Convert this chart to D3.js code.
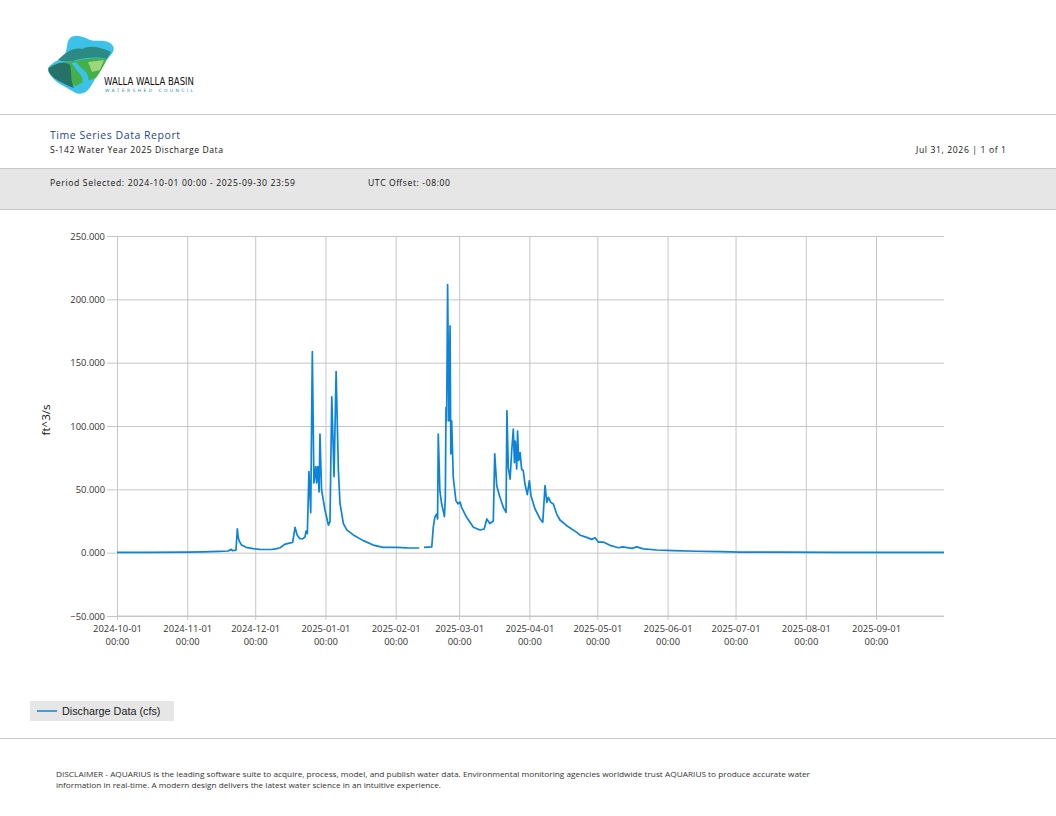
<!DOCTYPE html>
<html>
<head>
<meta charset="utf-8">
<script src="https://cdn.jsdelivr.net/npm/d3@7"></script>
<style>
    body { margin: 0; background: #fff; }
    svg { display: block; font-family: "Open Sans", sans-serif; }
</style>
</head>
<body>
<svg id="page" width="1056" height="816"></svg>
<script>
// Discharge readings (cfs). null = missing data.
const sampleTimes = [
    "2024-10-01 00:00", "2024-10-15 00:00", "2024-11-01 00:00", "2024-11-08 00:00", "2024-11-15 00:00",
    "2024-11-19 00:00", "2024-11-20 12:00", "2024-11-21 00:00", "2024-11-22 12:00", "2024-11-23 03:00",
    "2024-11-23 12:00", "2024-11-24 00:00", "2024-11-25 00:00", "2024-11-27 00:00", "2024-11-30 00:00",
    "2024-12-03 00:00", "2024-12-08 00:00", "2024-12-10 00:00", "2024-12-12 00:00", "2024-12-14 00:00",
    "2024-12-16 00:00", "2024-12-17 12:00", "2024-12-18 14:00", "2024-12-19 12:00", "2024-12-20 18:00",
    "2024-12-22 00:00", "2024-12-23 00:00", "2024-12-23 10:00", "2024-12-24 00:00", "2024-12-24 17:00",
    "2024-12-25 12:00", "2024-12-26 05:00", "2024-12-26 22:00", "2024-12-27 17:00", "2024-12-28 02:00",
    "2024-12-28 14:00", "2024-12-29 05:00", "2024-12-29 14:00", "2024-12-30 07:00", "2024-12-31 19:00",
    "2025-01-02 07:00", "2025-01-03 00:00", "2025-01-03 19:00", "2025-01-04 19:00", "2025-01-05 17:00",
    "2025-01-06 17:00", "2025-01-07 10:00", "2025-01-08 22:00", "2025-01-10 10:00", "2025-01-13 07:00",
    "2025-01-17 17:00", "2025-01-22 02:00", "2025-01-26 12:00", "2025-02-01 10:00", "2025-02-06 00:00",
    "2025-02-11 10:00", "2025-02-12 12:00", "2025-02-13 12:00", "2025-02-16 22:00", "2025-02-17 14:00",
    "2025-02-18 07:00", "2025-02-19 02:00", "2025-02-19 12:00", "2025-02-19 19:00", "2025-02-20 12:00",
    "2025-02-21 07:00", "2025-02-22 07:00", "2025-02-22 12:00", "2025-02-22 22:00", "2025-02-23 05:00",
    "2025-02-23 12:00", "2025-02-23 22:00", "2025-02-24 12:00", "2025-02-25 00:00", "2025-02-25 08:00",
    "2025-02-25 17:00", "2025-02-26 10:00", "2025-02-27 14:00", "2025-02-28 14:00", "2025-03-01 10:00",
    "2025-03-02 02:00", "2025-03-04 07:00", "2025-03-07 07:00", "2025-03-10 05:00", "2025-03-12 02:00",
    "2025-03-13 05:00", "2025-03-14 14:00", "2025-03-16 02:00", "2025-03-16 17:00", "2025-03-17 14:00",
    "2025-03-19 00:00", "2025-03-20 12:00", "2025-03-21 17:00", "2025-03-22 02:00", "2025-03-22 17:00",
    "2025-03-23 12:00", "2025-03-24 05:00", "2025-03-24 22:00", "2025-03-25 10:00", "2025-03-25 19:00",
    "2025-03-26 10:00", "2025-03-26 19:00", "2025-03-27 07:00", "2025-03-27 22:00", "2025-03-28 14:00",
    "2025-03-29 07:00", "2025-03-30 02:00", "2025-03-31 02:00", "2025-04-01 00:00", "2025-04-01 17:00",
    "2025-04-03 12:00", "2025-04-05 17:00", "2025-04-06 22:00", "2025-04-07 22:00", "2025-04-08 17:00",
    "2025-04-09 10:00", "2025-04-10 10:00", "2025-04-11 14:00", "2025-04-13 02:00", "2025-04-14 12:00",
    "2025-04-17 12:00", "2025-04-21 22:00", "2025-04-23 12:00", "2025-04-26 07:00", "2025-04-28 12:00",
    "2025-04-30 00:00", "2025-05-01 10:00", "2025-05-03 14:00", "2025-05-06 14:00", "2025-05-10 07:00",
    "2025-05-12 05:00", "2025-05-16 05:00", "2025-05-18 10:00", "2025-05-21 07:00", "2025-05-27 05:00",
    "2025-06-03 12:00", "2025-06-13 22:00", "2025-06-24 05:00", "2025-07-03 00:00", "2025-07-20 00:00",
    "2025-08-15 00:00", "2025-09-30 23:59"
];

const dischargeCfs = [
    0.3, 0.3, 0.4, 0.7, 1.0,
    1.3, 2.6, 1.5, 2.0, 18.8,
    12.0, 9.0, 6.0, 4.2, 3.2,
    2.6, 2.5, 3.0, 3.9, 6.5,
    7.5, 8.0, 20.0, 14.0, 11.0,
    11.0, 12.5, 17.0, 15.0, 64.0,
    31.6, 158.7, 55.0, 68.0, 55.0,
    68.0, 48.0, 93.7, 49.5, 33.7,
    21.8, 24.5, 123.0, 60.0, 143.0,
    65.0, 39.0, 23.0, 18.0, 14.0,
    9.5, 6.0, 4.2, 4.2, 3.8,
    3.7, null, 4.2, 4.5, 20.0,
    28.0, 30.5, 26.6, 93.7, 49.0,
    38.4, 30.5, 28.5, 43.7, 114.7,
    104.0, 211.6, 104.0, 179.0, 78.0,
    104.0, 59.5, 41.0, 38.5, 40.0,
    35.8, 27.9, 20.0, 17.9, 18.7,
    26.6, 23.0, 25.0, 78.0, 53.0,
    43.7, 35.8, 31.8, 112.0, 67.0,
    58.0, 80.5, 97.6, 71.0, 88.0,
    66.0, 96.0, 72.6, 79.0, 66.0,
    64.7, 54.0, 45.8, 56.8, 45.0,
    34.5, 26.6, 24.0, 53.0, 39.7,
    43.7, 39.7, 38.4, 30.5, 25.8,
    21.3, 16.0, 13.7, 12.1, 10.5,
    11.8, 8.4, 8.4, 5.8, 3.9,
    4.6, 3.4, 4.6, 3.0, 2.1,
    1.6, 1.1, 0.8, 0.5, 0.4,
    0.3, 0.3
];

const monthTicks = [
    "2024-10-01", "2024-11-01", "2024-12-01", "2025-01-01", "2025-02-01", "2025-03-01",
    "2025-04-01", "2025-05-01", "2025-06-01", "2025-07-01", "2025-08-01", "2025-09-01"
];
const yTicks = [-50, 0, 50, 100, 150, 200, 250];
const periodStart = "2024-10-01 00:00";
const periodEnd = "2025-10-01 00:00";

const parseTime = d3.timeParse("%Y-%m-%d %H:%M");
const parseDay = d3.timeParse("%Y-%m-%d");

let series = sampleTimes.map((t, i) => ({ time: parseTime(t), value: dischargeCfs[i] }));

let svg = d3.select("#page");
let lineColor = "#0b84d9";
let ruleColor = "#c6c6c6";

// small helper for the spaced-out report text
function headerText(x, y, str, size, fill, len, anchor)
{
    return svg.append("text")
        .attr("x", x).attr("y", y)
        .attr("font-size", size)
        .attr("fill", fill)
        .attr("text-anchor", anchor || "start")
        .attr("textLength", len)
        .attr("lengthAdjust", "spacing")
        .text(str);
}

// ---------- header ----------
drawLogo(svg.append("g"));

svg.append("line")
    .attr("x1", 0).attr("x2", 1056)
    .attr("y1", 114.5).attr("y2", 114.5)
    .attr("stroke", ruleColor);

headerText(50, 139, "Time Series Data Report", 10.5, "#1f3f9a", 130);
headerText(50, 153, "S-142 Water Year 2025 Discharge Data", 8.6, "#111", 173);
headerText(1006, 153, "Jul 31, 2026 | 1 of 1", 8.6, "#111", 90, "end");

svg.append("rect")
    .attr("x", -1).attr("y", 168.5)
    .attr("width", 1058).attr("height", 41)
    .attr("fill", "#e6e6e6")
    .attr("stroke", ruleColor);

headerText(50, 186, "Period Selected: 2024-10-01 00:00 - 2025-09-30 23:59", 8.6, "#111", 245);
headerText(368, 186, "UTC Offset: -08:00", 8.6, "#111", 82);

// ---------- chart ----------
let plot = {left: 117, right: 944, top: 236, bottom: 616};
let width = plot.right - plot.left,
    height = plot.bottom - plot.top;

let xScale = d3.scaleTime()
    .domain([parseTime(periodStart), parseTime(periodEnd)])
    .range([plot.left, plot.right]);

let yScale = d3.scaleLinear()
    .domain([-50, 250])
    .range([plot.bottom, plot.top]);

// y grid + labels (grid runs 10px past the left edge, like the report)
let yAxis = svg.append("g")
    .attr("transform", "translate(" + (plot.left - 10) + ",0)")
    .call(d3.axisLeft(yScale)
        .tickValues(yTicks)
        .tickSize(-(width + 10))
        .tickPadding(2)
        .tickFormat(d3.format(".3f")));
yAxis.select(".domain").remove();
yAxis.selectAll("line").attr("stroke", ruleColor);
yAxis.selectAll("text")
    .attr("font-family", "Open Sans, sans-serif")
    .attr("font-size", 9.4)
    .attr("fill", "#333");

// x grid + two-line labels
let xAxis = svg.append("g")
    .attr("transform", "translate(0," + (plot.bottom + 4) + ")")
    .call(d3.axisBottom(xScale)
        .tickValues(monthTicks.map(parseDay))
        .tickSize(-(height + 4))
        .tickFormat(""));
xAxis.select(".domain").remove();
xAxis.selectAll("line").attr("stroke", ruleColor);
xAxis.selectAll(".tick text").remove();
xAxis.selectAll(".tick").each(function (d) {
    let label = d3.select(this).append("text")
        .attr("font-family", "Open Sans, sans-serif")
        .attr("font-size", 9.4)
        .attr("fill", "#333")
        .attr("text-anchor", "middle");
    label.append("tspan").attr("x", 0).attr("y", 12).text(d3.timeFormat("%Y-%m-%d")(d));
    label.append("tspan").attr("x", 0).attr("y", 25).text(d3.timeFormat("%H:%M")(d));
});

// bottom edge of the plot
svg.append("line")
    .attr("x1", plot.left).attr("x2", plot.right)
    .attr("y1", yScale(-50)).attr("y2", yScale(-50))
    .attr("stroke", ruleColor);

// axis title
svg.append("text")
    .attr("transform", "translate(50," + (plot.top + height / 2 - 6) + ") rotate(-90)")
    .attr("text-anchor", "middle")
    .attr("font-size", 11.5)
    .attr("fill", "#111")
    .text("ft^3/s");

// discharge line
let line = d3.line()
    .defined((d) => { return d.value !== null; })
    .x((d) => { return xScale(d.time); })
    .y((d) => { return yScale(d.value); });

svg.append("path")
    .datum(series)
    .attr("d", line)
    .attr("fill", "none")
    .attr("stroke", lineColor)
    .attr("stroke-width", 1.7)
    .attr("stroke-linejoin", "round");

// ---------- legend ----------
svg.append("rect")
    .attr("x", 30).attr("y", 701)
    .attr("width", 144).attr("height", 20)
    .attr("fill", "#e6e6e6");
svg.append("line")
    .attr("x1", 37).attr("x2", 57)
    .attr("y1", 711).attr("y2", 711)
    .attr("stroke", lineColor)
    .attr("stroke-width", 1.5);
svg.append("text")
    .attr("x", 62).attr("y", 715)
    .attr("font-family", "Liberation Sans, Arial, sans-serif")
    .attr("font-size", 10.8)
    .attr("fill", "#222")
    .text("Discharge Data (cfs)");

// ---------- footer ----------
svg.append("line")
    .attr("x1", 0).attr("x2", 1056)
    .attr("y1", 738.5).attr("y2", 738.5)
    .attr("stroke", ruleColor);

svg.append("text")
    .attr("x", 56).attr("y", 777)
    .attr("font-size", 7.4)
    .attr("fill", "#333")
    .attr("textLength", 754)
    .attr("lengthAdjust", "spacingAndGlyphs")
    .text("DISCLAIMER - AQUARIUS is the leading software suite to acquire, process, model, and publish water data. Environmental monitoring agencies worldwide trust AQUARIUS to produce accurate water");
svg.append("text")
    .attr("x", 56).attr("y", 788)
    .attr("font-size", 7.4)
    .attr("fill", "#333")
    .attr("textLength", 385)
    .attr("lengthAdjust", "spacingAndGlyphs")
    .text("information in real-time. A modern design delivers the latest water science in an intuitive experience.");

// Rough drawing of the council's logo
function drawLogo(g)
{
    g.append("path")
        .attr("d", "M70,38 C76,33 84,37 90,40 C97,42 104,39 110,43 C116,47 114,52 110,56 L101,66 C96,74 94,84 88,90 C84,94 78,95 74,92 L60,84 C54,80 48,74 48,68 C52,62 60,60 64,56 C68,50 66,42 70,38 Z")
        .attr("fill", "#3cc2e8");
    g.append("path")
        .attr("d", "M58,60 C66,52 74,47 82,49 C90,45 100,47 111,52 L107,59 C96,56 86,58 76,60 C70,62 64,62 58,60 Z")
        .attr("fill", "#2b8a84");
    g.append("path")
        .attr("d", "M52,66 C60,62 70,62 80,60 C90,58 100,58 107,59 C104,66 100,72 96,78 C90,80 82,82 76,86 C70,84 62,80 56,76 Z")
        .attr("fill", "#43b049");
    g.append("path")
        .attr("d", "M88,62 L104,60 L100,70 L92,72 Z")
        .attr("fill", "#9fd67a");
    g.append("path")
        .attr("d", "M49,68 C56,63 64,61 70,65 C72,72 70,80 74,88 C68,86 60,82 54,78 C50,74 47,71 49,68 Z")
        .attr("fill", "#267266");
    g.append("path")
        .attr("d", "M76,62 C80,68 86,70 88,76 C90,82 84,86 86,92 L80,93 C80,86 84,82 82,77 C79,72 74,68 72,63 Z")
        .attr("fill", "#3cc2e8");
    g.append("text")
        .attr("x", 104).attr("y", 85)
        .attr("font-family", "DejaVu Sans Condensed, DejaVu Sans, sans-serif")
        .attr("font-size", 10.5)
        .attr("fill", "#111")
        .attr("textLength", 90)
        .attr("lengthAdjust", "spacingAndGlyphs")
        .text("WALLA WALLA BASIN");
    g.append("text")
        .attr("x", 105).attr("y", 92)
        .attr("font-family", "DejaVu Sans, sans-serif")
        .attr("font-size", 4.5)
        .attr("fill", "#2b8fa3")
        .attr("textLength", 88)
        .attr("lengthAdjust", "spacing")
        .text("WATERSHED COUNCIL");
}
</script>
</body>
</html>
